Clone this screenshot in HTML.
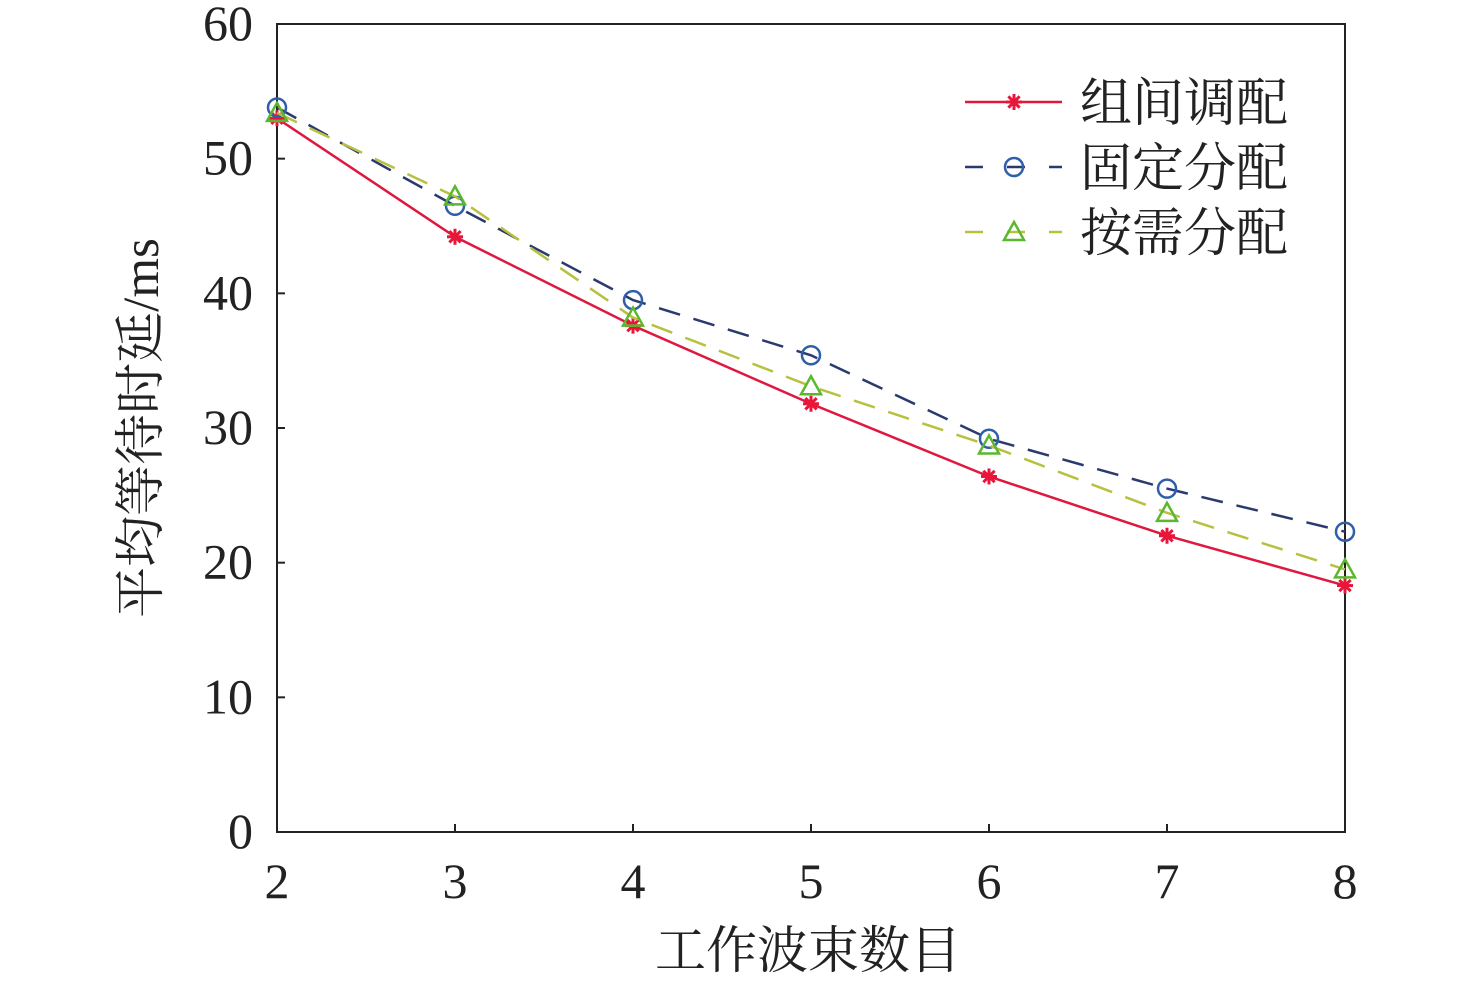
<!DOCTYPE html>
<html><head><meta charset="utf-8">
<style>
html,body{margin:0;padding:0;background:#fff;}
svg text{font-family:"Liberation Serif","Noto Serif CJK SC",serif;fill:#222;}
</style></head>
<body>
<svg id="chart" width="1476" height="982" viewBox="0 0 1476 982" xmlns="http://www.w3.org/2000/svg"></svg>
<script>
const categories=[2,3,4,5,6,7,8];
const yTicks=[0,10,20,30,40,50,60];
const seriesNames=["组间调配","固定分配","按需分配"];
const interGroup=[53.0,44.2,37.6,31.8,26.4,22.0,18.3];
const fixedAlloc=[53.8,46.5,39.5,35.4,29.2,25.5,22.3];
const onDemand=[53.4,47.2,38.2,33.1,28.7,23.7,19.5];

const svg=document.getElementById('chart');
const NS='http://www.w3.org/2000/svg';
const L=277,R=1345,T=24,B=832;
const x=v=>L+(v-2)/(8-2)*(R-L);
const y=v=>B-v/60*(B-T);
function mk(tag,attrs,parent){const e=document.createElementNS(NS,tag);for(const k in attrs)e.setAttribute(k,attrs[k]);(parent||svg).appendChild(e);return e;}

const frame=mk('rect',{x:L,y:T,width:R-L,height:B-T,fill:'none',stroke:'#222','stroke-width':2});



yTicks.forEach(t=>{
  const ln=mk('line',{x1:L,x2:L+8,y1:y(t),y2:y(t),stroke:'#222','stroke-width':2});
  
  
  const tx=mk('text',{x:L-24,y:y(t)+16,'text-anchor':'end','font-size':50});
  tx.textContent=t;
  
  
});
categories.forEach(c=>{
  const ln=mk('line',{x1:x(c),x2:x(c),y1:B,y2:B-8,stroke:'#222','stroke-width':2});
  
  
  const tx=mk('text',{x:x(c),y:B+66,'text-anchor':'middle','font-size':50});
  tx.textContent=c;
  
  
});
const xt=mk('text',{x:808,y:968,'text-anchor':'middle','font-size':51});
xt.textContent='工作波束数目';


const yt=mk('text',{x:0,y:0,'text-anchor':'middle','font-size':51,transform:'translate(158,428) rotate(-90)'});
yt.textContent='平均等待时延/ms';



function star(cx,cy,g,col){
  for(let a=0;a<180;a+=45){const r=a*Math.PI/180;mk('line',{x1:cx-8*Math.cos(r),y1:cy-8*Math.sin(r),x2:cx+8*Math.cos(r),y2:cy+8*Math.sin(r),stroke:col,'stroke-width':3},g);}
}
function circ(cx,cy,g){mk('circle',{cx:cx,cy:cy,r:9,fill:'none',stroke:'#2f5fa8','stroke-width':2.5},g);}
function tri(cx,cy,g){mk('polygon',{points:`${cx},${cy-10} ${cx-10},${cy+8} ${cx+10},${cy+8}`,fill:'none',stroke:'#5bb82e','stroke-width':2.5},g);}

const series=[
 {data:interGroup,color:'#e0173f',dash:'',marker:(a,b,g)=>star(a,b,g,'#e8173a'),name:'series-inter-group'},
 {data:fixedAlloc,color:'#2a3a6e',dash:'22,14',marker:circ,name:'series-fixed-alloc'},
 {data:onDemand,color:'#b8c040',dash:'22,14',marker:tri,name:'series-on-demand'}
];
series.forEach((s,i)=>{
  const g=mk('g',{});
  
  
  const pts=s.data.map((v,j)=>x(categories[j])+','+y(v)).join(' ');
  const pl=mk('polyline',{points:pts,fill:'none',stroke:s.color,'stroke-width':2.5,'stroke-dasharray':s.dash},g);
  
  
  s.data.forEach((v,j)=>s.marker(x(categories[j]),y(v),g));
  const ly=102+i*65;
  const lg=mk('g',{});
  
  
  mk('line',{x1:965,x2:1062,y1:ly,y2:ly,stroke:s.color,'stroke-width':2.5,'stroke-dasharray':s.dash?'18,24':''},lg);
  s.marker(1014,ly,lg);
  const t=mk('text',{x:1080,y:ly+19,'font-size':52},lg);
  t.textContent=seriesNames[i];
});
</script>
</body></html>
